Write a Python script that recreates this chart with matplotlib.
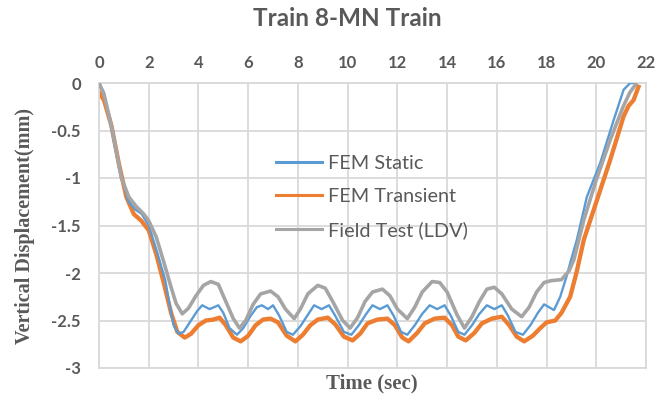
import matplotlib
matplotlib.use("Agg")
import matplotlib.pyplot as plt

# --- series (time in s, displacement in mm) ---
t_static = [0, 0.2, 0.4, 0.64, 0.9, 1.17, 1.45, 1.72, 2.0, 2.3, 2.66, 2.85, 3.0, 3.2, 3.4,
            3.7, 3.95, 4.15, 4.45, 4.8, 5.0, 5.25, 5.55, 5.8, 6.1, 6.35, 6.55, 6.8, 7.0,
            7.25, 7.55, 7.8, 8.1, 8.4, 8.65, 8.95, 9.25, 9.5, 9.85, 10.15, 10.45, 10.75,
            11.0, 11.3, 11.6, 11.85, 12.15, 12.4, 12.7, 13.0, 13.3, 13.6, 13.9, 14.15,
            14.45, 14.7, 15.0, 15.3, 15.6, 15.9, 16.2, 16.45, 16.75, 17.05, 17.35, 17.65,
            17.9, 18.1, 18.3, 18.55, 18.8, 19.0, 19.22, 19.62, 20.16, 20.7, 21.1, 21.37, 21.6]
d_static = [0, -0.1, -0.35, -0.67, -0.98, -1.24, -1.33, -1.38, -1.5, -1.75, -2.07, -2.35,
            -2.55, -2.64, -2.62, -2.5, -2.4, -2.34, -2.38, -2.34, -2.42, -2.58, -2.65, -2.58,
            -2.45, -2.36, -2.34, -2.38, -2.34, -2.45, -2.62, -2.65, -2.56, -2.44, -2.34,
            -2.38, -2.34, -2.45, -2.62, -2.65, -2.55, -2.43, -2.34, -2.38, -2.34, -2.45,
            -2.62, -2.65, -2.55, -2.43, -2.34, -2.38, -2.34, -2.45, -2.62, -2.65, -2.55,
            -2.43, -2.34, -2.38, -2.34, -2.45, -2.62, -2.65, -2.55, -2.42, -2.33, -2.36,
            -2.39, -2.25, -2.04, -1.85, -1.65, -1.2, -0.84, -0.39, -0.07, 0.0, 0.0]

t_transient = [0, 0.2, 0.5, 0.8, 1.1, 1.4, 1.7, 2.0, 2.3, 2.6, 2.9, 3.15, 3.45, 3.7, 4.0,
               4.3, 4.6, 4.85, 5.1, 5.4, 5.7, 6.0, 6.3, 6.6, 6.9, 7.2, 7.55, 7.9, 8.2, 8.5,
               8.8, 9.2, 9.5, 9.85, 10.2, 10.5, 10.8, 11.2, 11.6, 11.9, 12.2, 12.45, 12.8,
               13.1, 13.5, 13.9, 14.2, 14.45, 14.75, 15.1, 15.4, 15.8, 16.2, 16.5, 16.8,
               17.1, 17.45, 17.75, 18.0, 18.35, 18.6, 18.95, 19.2, 19.5, 20.03, 20.56, 21.1,
               21.3, 21.5, 21.7]
d_transient = [-0.1, -0.18, -0.45, -0.85, -1.2, -1.38, -1.45, -1.55, -1.8, -2.1, -2.42,
               -2.62, -2.68, -2.64, -2.55, -2.5, -2.49, -2.47, -2.55, -2.68, -2.72, -2.66,
               -2.55, -2.49, -2.48, -2.52, -2.66, -2.72, -2.65, -2.55, -2.49, -2.47, -2.54,
               -2.67, -2.71, -2.64, -2.53, -2.49, -2.48, -2.55, -2.68, -2.72, -2.63, -2.53,
               -2.48, -2.47, -2.55, -2.67, -2.71, -2.63, -2.53, -2.48, -2.46, -2.55, -2.67,
               -2.72, -2.66, -2.58, -2.52, -2.5, -2.42, -2.25, -2.0, -1.65, -1.23, -0.81,
               -0.35, -0.24, -0.18, -0.04]

t_field = [0, 0.2, 0.5, 0.9, 1.2, 1.5, 1.8, 2.0, 2.3, 2.6, 2.9, 3.1, 3.35, 3.6, 3.9, 4.2,
           4.5, 4.8, 5.1, 5.4, 5.65, 5.9, 6.2, 6.5, 6.9, 7.2, 7.5, 7.85, 8.1, 8.4, 8.8, 9.1,
           9.4, 9.8, 10.1, 10.4, 10.7, 11.0, 11.4, 11.7, 12.0, 12.4, 12.7, 13.0, 13.4, 13.7,
           14.0, 14.4, 14.7, 15.0, 15.3, 15.6, 15.9, 16.2, 16.6, 17.0, 17.3, 17.6, 17.9,
           18.2, 18.6, 18.9, 19.1, 19.5, 20.0, 20.56, 21.08, 21.35, 21.57]
d_field = [0, -0.12, -0.45, -1.0, -1.2, -1.3, -1.38, -1.45, -1.62, -1.88, -2.15, -2.32,
           -2.43, -2.37, -2.24, -2.13, -2.09, -2.12, -2.3, -2.48, -2.58, -2.5, -2.33, -2.22,
           -2.19, -2.25, -2.38, -2.48, -2.38, -2.22, -2.13, -2.16, -2.3, -2.5, -2.58, -2.47,
           -2.3, -2.2, -2.17, -2.24, -2.38, -2.48, -2.36, -2.2, -2.09, -2.1, -2.2, -2.44,
           -2.58, -2.46, -2.3, -2.17, -2.15, -2.22, -2.38, -2.46, -2.36, -2.2, -2.1, -2.08,
           -2.07, -1.98, -1.86, -1.44, -1.02, -0.6, -0.25, -0.1, -0.02]

x_ticks = list(range(0, 23, 2))
y_ticks = [0, -0.5, -1, -1.5, -2, -2.5, -3]
y_tick_labels = ["0", "-0.5", "-1", "-1.5", "-2", "-2.5", "-3"]

TXT = "#595959"
GRID = "#D9D9D9"

fig = plt.figure(figsize=(6.55, 3.95), dpi=100)
ax = fig.add_axes([99 / 655, 1 - 368 / 395, (646 - 99) / 655, (368 - 83) / 395])

ax.plot(t_static, d_static, color="#5B9BD5", lw=1.7, label="FEM Static", zorder=3)
ax.plot(t_transient, d_transient, color="#ED7D31", lw=3.1, label="FEM Transient", zorder=2)
ax.plot(t_field, d_field, color="#A5A5A5", lw=2.6, label="Field Test (LDV)", zorder=4)

ax.set_xlim(0, 22)
ax.set_ylim(-3, 0)
ax.set_xticks(x_ticks)
ax.set_yticks(y_ticks)
ax.set_yticklabels(y_tick_labels)
ax.xaxis.tick_top()
ax.tick_params(length=0, labelcolor=TXT, labelsize=12)
ax.tick_params(axis="x", pad=9)
ax.tick_params(axis="y", pad=13)
for lab in ax.get_xticklabels() + ax.get_yticklabels():
    lab.set_fontfamily("Lato")
    lab.set_fontweight("bold")

ax.grid(True, color=GRID, lw=1.3)
ax.set_axisbelow(True)
for s in ax.spines.values():
    s.set_color(GRID)
    s.set_linewidth(1.3)

fig.text(347 / 655, 1 - 19 / 395, "Train 8-MN Train", ha="center", va="center",
         fontsize=17.5, fontweight="bold", color=TXT, family="Lato")
fig.text(372 / 655, 1 - 383 / 395, "Time (sec)", ha="center", va="center",
         fontsize=15, fontweight="bold", color=TXT, family="Liberation Serif")
fig.text(25 / 655, 1 - 226 / 395, "Vertical Displacement(mm)", ha="center", va="center",
         rotation=90, fontsize=14.5, fontweight="bold", color=TXT, family="Liberation Serif")

leg = ax.legend(loc="upper left", bbox_to_anchor=(276 / 655, 1 - 155 / 395),
                bbox_transform=fig.transFigure, frameon=False, borderpad=0,
                borderaxespad=0, handlelength=2.3, handletextpad=0.3, labelspacing=0.8,
                prop={"family": "Lato", "size": 14.3})
for txt in leg.get_texts():
    txt.set_color(TXT)
for h in leg.get_lines():
    h.set_linewidth(2.2)

fig.savefig("out.png", dpi=100, facecolor="white")
